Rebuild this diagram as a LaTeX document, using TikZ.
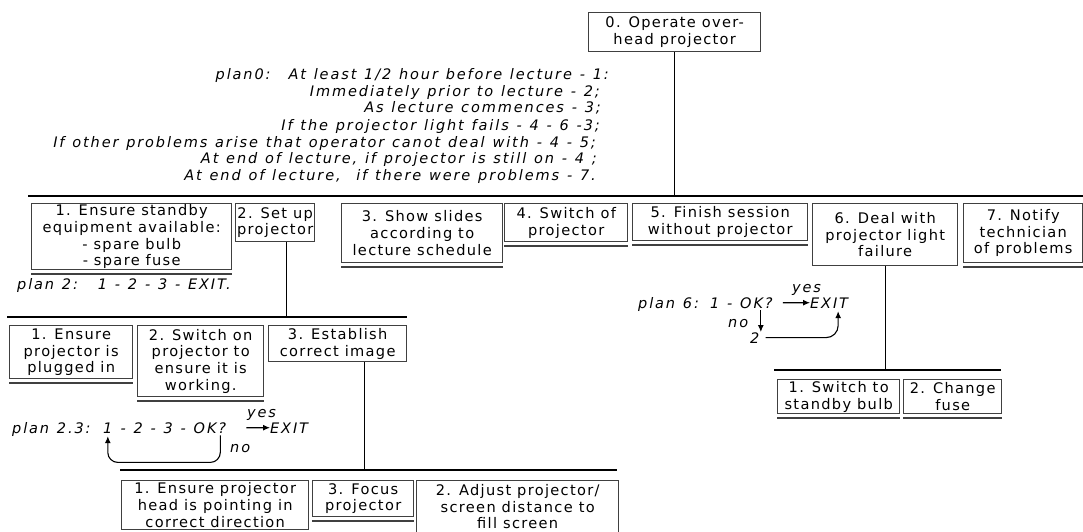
\documentclass[tikz,border=0pt]{standalone}
\usepackage{fontspec}
\setmainfont{DejaVu Sans}[LetterSpace=9]
\newfontfamily\myitfam{DejaVu Sans}[LetterSpace=13,WordSpace=1.2]
\usetikzlibrary{arrows.meta}
\newcommand\mybxfont{\fontsize{14.6}{16.7}\selectfont}
\newcommand\myplfont{\myitfam\fontsize{14.5}{16.7}\selectfont\itshape}
\tikzset{
  box/.style={draw=black!75, line width=1.4pt, inner sep=0pt, align=center, anchor=north west, font=\mybxfont},
  uline/.style={draw=black!75, line width=1.4pt},
  bar/.style={line width=2.6pt},
  conn/.style={line width=1.4pt},
  plan/.style={font=\myplfont, inner sep=0pt},
  arr/.style={line width=1.1pt, -{Latex[length=7pt,width=6pt]}},
}
\begin{document}
\begin{tikzpicture}[x=1pt,y=-1pt]
\useasboundingbox (0,0) rectangle (1083,532);
% top
\node[box, minimum width=172, minimum height=39] (b0) at (588,12) {0. Operate over-\\head projector};
\coordinate (l0w) at (28,196);
\coordinate (l0e) at (1083,196);
\draw[bar] (l0w) -- (l0e);
\draw[conn] (b0.south) -- (b0.south |- l0w);
% plan 0
\node[plan, anchor=base east] (p0a) at (609,80) {plan0:\hspace{18pt}At least 1/2 hour before lecture - 1:};
\node[plan, anchor=base east] (p0b) at (600,97) {Immediately prior to lecture - 2;};
\node[plan, anchor=base east] (p0c) at (601,113) {As lecture commences - 3;};
\node[plan, anchor=base east] (p0d) at (600,130) {If the projector light fails - 4 - 6 -3;};
\node[plan, anchor=base east] (p0e) at (596,147) {If other problems arise that operator canot deal with - 4 - 5;};
\node[plan, anchor=base east] (p0f) at (597,163) {At end of lecture, if projector is still on - 4 ;};
\node[plan, anchor=base east] (p0g) at (596,180) {At end of lecture,\ \ if there were problems - 7.};
% level 1
\node[box, minimum width=200, minimum height=66] (b1) at (31,203) {1. Ensure standby\\equipment available:\\- spare bulb\\- spare fuse};
\node[box, minimum width=79, minimum height=38] (b2) at (235,203) {2. Set up\\projector};
\node[box, minimum width=161, minimum height=59] (b3) at (341,203) {3. Show slides\\according to\\lecture schedule};
\node[box, minimum width=123, minimum height=38] (b4) at (504,203) {4. Switch of\\projector};
\node[box, minimum width=175, minimum height=37] (b5) at (632,203) {5. Finish session\\without projector};
\node[box, minimum width=145, minimum height=62] (b6) at (812,203) {6. Deal with\\projector light\\failure};
\node[box, minimum width=119, minimum height=59] (b7) at (963,203) {7. Notify\\technician\\of problems};
% plan 2
\node[plan, anchor=base west] (p2) at (17,289) {plan 2:\hspace{20pt}1 - 2 - 3 - EXIT.};
% level 2
\coordinate (l1w) at (7,317);
\coordinate (l1e) at (407,317);
\draw[bar] (l1w) -- (l1e);
\draw[conn] ([xshift=11.5pt]b2.south) -- ([xshift=11.5pt]b2.south |- l1w);
\node[box, minimum width=123, minimum height=53] (b21) at (9,325) {1. Ensure\\projector is\\plugged in};
\node[box, minimum width=126, minimum height=71] (b22) at (137,325) {2. Switch on\\projector to\\ensure it is\\working.};
\node[box, minimum width=138, minimum height=36] (b23) at (268,325) {3. Establish\\correct image};
% plan 2.3
\node[plan, anchor=base west] (p23lab) at (12,433) {plan 2.3:};
\node[plan, anchor=base west] (p23one) at (103,433) {1};
\node[plan, anchor=base west] (p23ok) at (p23one.base east) {\ - 2 - 3 - OK?};
\node[plan, anchor=base west] (p23exit) at (270,433) {EXIT};
\node[plan, anchor=base west] (p23yes) at (247,417) {yes};
\node[plan, anchor=base west] (p23no) at (230,452) {no};
\draw[arr] ([xshift=20pt]p23ok.east) -- (p23exit.west);
\draw[arr, rounded corners=10pt] ([xshift=-6pt,yshift=-2pt]p23ok.south east) -- ++(0,27) -| ([yshift=-3pt]p23one.south);
% level 3
\coordinate (l2w) at (120,470);
\coordinate (l2e) at (617,470);
\draw[bar] (l2w) -- (l2e);
\draw[conn] ([xshift=27pt]b23.south) -- ([xshift=27pt]b23.south |- l2w);
\node[box, minimum width=187, minimum height=49] (b231) at (121,480) {1. Ensure projector\\head is pointing in\\correct direction};
\node[box, minimum width=101, minimum height=36] (b233) at (312,480) {3. Focus\\projector};
\node[box, minimum width=202, minimum height=52] (b232) at (416,480) {2. Adjust projector/\\screen distance to\\fill screen};
% plan 6
\node[plan, anchor=base west] (p6lab) at (638,308) {plan 6:};
\node[plan, anchor=base west] (p6ok) at (710,308) {1 - OK?};
\node[plan, anchor=base west] (p6exit) at (810,308) {EXIT};
\node[plan, anchor=base west] (p6yes) at (792,292) {yes};
\node[plan, anchor=base west] (p6no) at (728,327) {no};
\node[plan, anchor=base west] (p6two) at (750,343) {2};
\draw[arr] ([xshift=10pt]p6ok.east) -- (p6exit.west);
\draw[arr] ([xshift=-12pt,yshift=-2pt]p6ok.south east) -- ([xshift=-12pt]p6ok.south east |- p6two.north);
\draw[arr, rounded corners=12pt] ([xshift=6pt]p6two.east) -| ([xshift=9pt,yshift=-3pt]p6exit.south);
% level 6
\coordinate (l6w) at (774,370);
\coordinate (l6e) at (1001,370);
\draw[bar] (l6w) -- (l6e);
\draw[conn] (b6.south) -- (b6.south |- l6w);
\node[box, minimum width=122, minimum height=34] (b61) at (777,379) {1. Switch to\\standby bulb};
\node[box, minimum width=98, minimum height=34] (b62) at (903,379) {2. Change\\fuse};
% underlines
\foreach \n in {b1,b3,b4,b5,b7,b21,b22,b61,b62,b231,b233}
  \draw[uline] ([yshift=-3.5pt]\n.south west) -- ([yshift=-3.5pt]\n.south east);
\end{tikzpicture}
\end{document}
